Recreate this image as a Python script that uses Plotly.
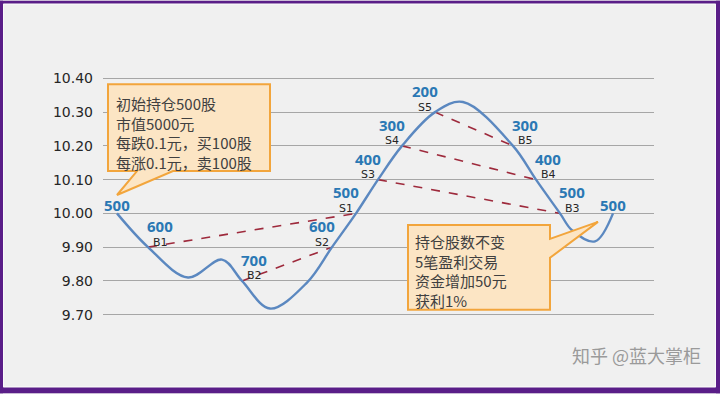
import plotly.graph_objects as go

# ---------------- data ----------------
# price path (x = horizontal position along the time axis, y = price)
curve_x = [14, 45, 85, 119, 139, 167, 204, 229, 253, 275, 299, 332, 360, 410, 433, 457, 469, 492, 510]
curve_y = [10.00, 9.90, 9.81, 9.863, 9.80, 9.718, 9.795, 9.90, 10.00, 10.10, 10.20, 10.30, 10.33,
           10.20, 10.10, 10.00, 9.95, 9.917, 10.00]

# trades
trade_names = ["B1", "B2", "S2", "S1", "S3", "S4", "S5", "B5", "B4", "B3"]
trade_x = [45, 139, 229, 253, 275, 299, 332, 410, 433, 457]
trade_price = [9.90, 9.80, 9.90, 10.00, 10.10, 10.20, 10.30, 10.20, 10.10, 10.00]
holdings = [600, 700, 600, 500, 400, 300, 200, 300, 400, 500]

# start / end holdings
start_x, start_price, start_hold = 14, 10.00, 500
end_x, end_price, end_hold = 510, 10.00, 500

# matched buy/sell pairs
pairs = [("B1", "S1"), ("B2", "S2"), ("S3", "B3"), ("S4", "B4"), ("S5", "B5")]

y_ticks = [9.70, 9.80, 9.90, 10.00, 10.10, 10.20, 10.30, 10.40]
y_tick_text = ["9.70", "9.80", "9.90", "10.00", "10.10", "10.20", "10.30", "10.40"]

note1 = ["初始持仓500股", "市值5000元", "每跌0.1元，买100股", "每涨0.1元，卖100股"]
note2 = ["持仓股数不变", "5笔盈利交易", "资金增加50元", "获利1%"]
watermark = "知乎 @蓝大掌柜"

# ---------------- layout geometry ----------------
W, H = 720, 394
L, R, T, B = 103, 66, 74.6, 75.6
PW = W - L - R
PH = H - T - B


def px(x):
    return (x - L) / PW


def py(y):
    return (H - B - y) / PH


CJK = "Noto Sans CJK SC"
BLUE_TXT = "#2A78B4"
LINE_BLUE = "#5B88C0"
RED = "#9E2A3C"

fig = go.Figure()

# dashed trade pair lines
idx = {n: i for i, n in enumerate(trade_names)}
for a, b in pairs:
    fig.add_trace(go.Scatter(
        x=[trade_x[idx[a]], trade_x[idx[b]]],
        y=[trade_price[idx[a]], trade_price[idx[b]]],
        mode="lines", line=dict(color=RED, width=1.6, dash="dash"),
        hoverinfo="skip", showlegend=False))

# price curve
fig.add_trace(go.Scatter(
    x=curve_x, y=curve_y, mode="lines",
    line=dict(color=LINE_BLUE, width=2.4, shape="spline", smoothing=1.0),
    hoverinfo="skip", showlegend=False))

annotations = []
for n, x, p, h in zip(trade_names, trade_x, trade_price, holdings):
    dx = 12 if n.startswith("B") else -10
    annotations.append(dict(x=x, y=p, xref="x", yref="y", text=f"<b>{h}</b>", showarrow=False,
                            xshift=dx, yshift=21, borderpad=0,
                            font=dict(family="Open Sans", size=15, color=BLUE_TXT)))
    annotations.append(dict(x=x, y=p, xref="x", yref="y", text=n, showarrow=False,
                            xshift=dx, yshift=5, borderpad=0,
                            font=dict(family="DejaVu Sans", size=11, color="#262626")))
for x, p, h in [(start_x, start_price, start_hold), (end_x, end_price, end_hold)]:
    annotations.append(dict(x=x, y=p, xref="x", yref="y", text=f"<b>{h}</b>", showarrow=False,
                            xshift=0, yshift=8, font=dict(family="Open Sans", size=15, color=BLUE_TXT)))

# callout boxes
def path(points):
    s = "M " + " L ".join(f"{px(a):.5f},{py(b):.5f}" for a, b in points) + " Z"
    return s

shapes = []
# purple frame
frame = "#5A1E88"
for (x0, y0, x1, y1) in [(0, 0, W, 3), (0, 0, 3, H), (W - 4, 0, W, H), (0, H - 6, W, H)]:
    shapes.append(dict(type="rect", xref="paper", yref="paper", x0=px(x0), x1=px(x1), y0=py(y0), y1=py(y1),
                       fillcolor=frame, line=dict(width=0), layer="above"))
shapes.append(dict(type="rect", xref="paper", yref="paper", x0=px(3.5), x1=px(W - 4.5), y0=py(3.5), y1=py(H - 6.5),
                   fillcolor="rgba(0,0,0,0)", line=dict(color="#FAFAFA", width=1), layer="above"))

box_fill = "#FCE5C4"
box_line = "#F2A53C"
shapes.append(dict(type="path", xref="paper", yref="paper",
                   path=path([(108, 84), (270, 84), (270, 171), (173, 171), (117, 195), (137, 171), (108, 171)]),
                   fillcolor=box_fill, line=dict(color=box_line, width=2), layer="above"))
shapes.append(dict(type="path", xref="paper", yref="paper",
                   path=path([(408, 225), (550, 225), (550, 239), (598, 222), (550, 258), (550, 310), (408, 310)]),
                   fillcolor=box_fill, line=dict(color=box_line, width=2), layer="above"))

annotations.append(dict(xref="paper", yref="paper", x=px(114), y=py(91), xanchor="left", yanchor="top",
                        text="<br>".join(note1), align="left", showarrow=False,
                        font=dict(family=CJK, size=15, color="#404040")))
annotations.append(dict(xref="paper", yref="paper", x=px(413), y=py(229), xanchor="left", yanchor="top",
                        text="<br>".join(note2), align="left", showarrow=False,
                        font=dict(family=CJK, size=15, color="#404040")))
annotations.append(dict(xref="paper", yref="paper", x=px(703), y=py(356), xanchor="right", yanchor="middle",
                        text=watermark, showarrow=False,
                        font=dict(family=CJK, size=18, color="#9A9A9A")))

fig.update_layout(
    width=W, height=H,
    margin=dict(l=L, r=R, t=T, b=B, pad=0),
    paper_bgcolor="#F0F0F0", plot_bgcolor="#F0F0F0",
    xaxis=dict(range=[0, PW], showgrid=False, zeroline=False, showticklabels=False, showline=False, fixedrange=True),
    yaxis=dict(range=[9.69, 10.41], tickvals=y_ticks, ticktext=y_tick_text, showgrid=True,
               gridcolor="#A6A6A6", gridwidth=1, zeroline=False, showline=False, ticks="",
               ticklabelstandoff=9, fixedrange=True,
               tickfont=dict(family="DejaVu Sans", size=14, color="#262626")),
    shapes=shapes, annotations=annotations, showlegend=False,
)

fig.write_html("out.html", config={"displayModeBar": False, "staticPlot": True},
               post_script="document.body.style.margin='0';")
